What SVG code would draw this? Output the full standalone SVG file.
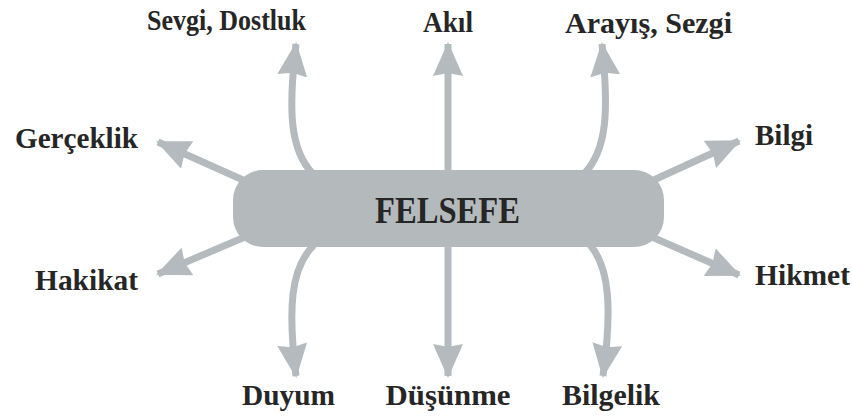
<svg xmlns="http://www.w3.org/2000/svg" width="852" height="416" viewBox="0 0 852 416">
<style>
.lbl{font-family:"Liberation Serif","Times New Roman",serif;font-weight:bold;font-size:29px;fill:#262626}
.ttl{font-family:"Liberation Serif","Times New Roman",serif;font-weight:bold;font-size:37px;fill:#262626}
.con{fill:none;stroke:#b4babd;stroke-width:7;marker-end:url(#ah)}
</style>
<defs>
<marker id="ah" markerUnits="userSpaceOnUse" markerWidth="34" markerHeight="30" refX="32" refY="15" orient="auto" viewBox="0 0 34 30">
<path d="M0,0 L34,15 L0,30 L3,15 Z" fill="#b4babd"/>
</marker>
</defs>
<rect width="852" height="416" fill="#ffffff"/>
<g id="connectors">
<path class="con" d="M448,172 L448,44"/>
<path class="con" d="M313,174 C290,150 288,112 296,44"/>
<path class="con" d="M584,174 C607,150 609,112 602,44"/>
<path class="con" d="M252,184 L158,142"/>
<path class="con" d="M645,184 L739,141"/>
<path class="con" d="M252,234 L158,274"/>
<path class="con" d="M645,234 L739,275"/>
<path class="con" d="M314,245 C290,268 288,310 296,376"/>
<path class="con" d="M448,245 L448,376"/>
<path class="con" d="M590,245 C610,268 612,310 603,376"/>
</g>
<g id="felsefe">
<rect x="233" y="170" width="431" height="77" rx="30" fill="#b4b9bc"/>
<text class="ttl" x="447.5" y="223" text-anchor="middle" textLength="145" lengthAdjust="spacingAndGlyphs">FELSEFE</text>
</g>
<g id="sevgi"><text class="lbl" x="226.5" y="30" text-anchor="middle" textLength="159" lengthAdjust="spacingAndGlyphs">Sevgi, Dostluk</text></g>
<g id="akil"><text class="lbl" x="448" y="32" text-anchor="middle" textLength="50" lengthAdjust="spacingAndGlyphs">Akıl</text></g>
<g id="arayis"><text class="lbl" x="648.5" y="33" text-anchor="middle" textLength="167" lengthAdjust="spacingAndGlyphs">Arayış, Sezgi</text></g>
<g id="gerceklik"><text class="lbl" x="15" y="148" textLength="123" lengthAdjust="spacingAndGlyphs">Gerçeklik</text></g>
<g id="bilgi"><text class="lbl" x="755" y="145" textLength="58" lengthAdjust="spacingAndGlyphs">Bilgi</text></g>
<g id="hakikat"><text class="lbl" x="35" y="290" textLength="103" lengthAdjust="spacingAndGlyphs">Hakikat</text></g>
<g id="hikmet"><text class="lbl" x="755" y="285" textLength="95" lengthAdjust="spacingAndGlyphs">Hikmet</text></g>
<g id="duyum"><text class="lbl" x="288.5" y="405" text-anchor="middle" textLength="93" lengthAdjust="spacingAndGlyphs">Duyum</text></g>
<g id="dusunme"><text class="lbl" x="448" y="405" text-anchor="middle" textLength="125" lengthAdjust="spacingAndGlyphs">Düşünme</text></g>
<g id="bilgelik"><text class="lbl" x="611" y="405" text-anchor="middle" textLength="98" lengthAdjust="spacingAndGlyphs">Bilgelik</text></g>
</svg>
